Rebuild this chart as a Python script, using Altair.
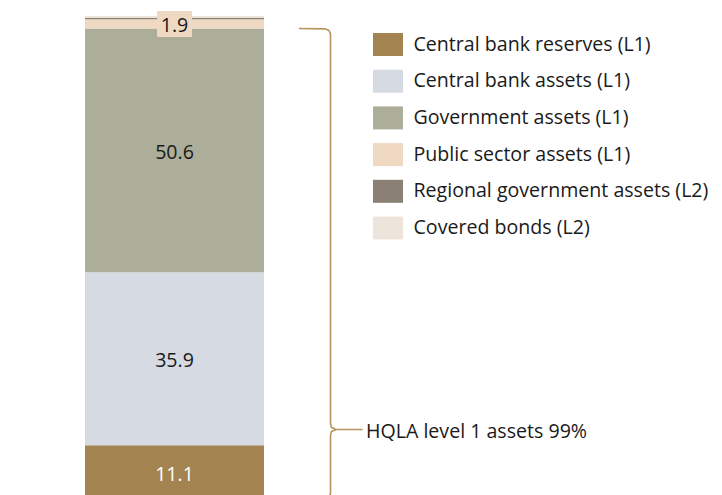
import altair as alt
import pandas as pd

# ---- data ----
categories = [
    "Central bank reserves (L1)",
    "Central bank assets (L1)",
    "Government assets (L1)",
    "Public sector assets (L1)",
    "Regional government assets (L2)",
    "Covered bonds (L2)",
]
values = [11.1, 35.9, 50.6, 1.9, 0.3, 0.4]
labels = ["11.1", "35.9", "50.6", "1.9", "", ""]
colors = ["#a38350", "#d5dae3", "#adae99", "#efd9c3", "#8a8073", "#ede5dc"]
label_colors = ["#ffffff", "#1a1a1a", "#1a1a1a", "#1a1a1a", "#1a1a1a", "#1a1a1a"]
bracket_label = "HQLA level 1 assets 99%"
bracket_tip_value = 14.4

# ---- layout ----
W, H = 706, 479
TOTAL = sum(values)
Y_MIN = 0.8
FONT = "Open Sans"
FS = 19.6
DY = 2.5
BAR_X0, BAR_X1 = 77, 256
BRACKET_COLOR = "#b5955b"

df = pd.DataFrame({
    "category": categories,
    "value": values,
    "label": labels,
    "lcolor": label_colors,
    "order": list(range(len(categories))),
})

yscale = alt.Scale(domain=[Y_MIN, TOTAL], nice=False, zero=False)

stacked = alt.Chart(df).transform_stack(
    stack="value", groupby=[], as_=["v0", "v1"],
    sort=[alt.SortField("order", order="ascending")],
).transform_calculate(mid="(datum.v0 + datum.v1) / 2")

bars = stacked.mark_rect(clip=True, strokeWidth=0).encode(
    x=alt.value(BAR_X0),
    x2=alt.value(BAR_X1),
    y=alt.Y("v0:Q", scale=yscale, axis=None),
    y2="v1:Q",
    color=alt.Color(
        "category:N",
        sort=categories,
        scale=alt.Scale(domain=categories, range=colors),
        legend=alt.Legend(
            title=None,
            orient="none",
            legendX=368.5,
            legendY=17,
            symbolType="M-1.304,-1H1.304V1H-1.304Z",
            symbolSize=529,
            symbolStrokeWidth=0,
            symbolOpacity=1,
            labelFont=FONT,
            labelFontSize=FS,
            labelColor="#1a1a1a",
            labelOffset=14,
            rowPadding=13.7,
            padding=0,
            labelLimit=400,
        ),
    ),
)

labelled = stacked.transform_filter("datum.label != ''")

label_box = labelled.transform_filter(
    alt.datum.category == categories[3]
).mark_point(
    shape="M-1.346,-1H1.346V1H-1.346Z", size=676, filled=True, opacity=1, strokeWidth=0
).encode(
    x=alt.value((BAR_X0 + BAR_X1) / 2),
    y=alt.Y("mid:Q", scale=yscale, axis=None),
    color=alt.value(colors[3]),
)

texts = labelled.mark_text(font=FONT, fontSize=FS, baseline="middle", align="center", dy=DY).encode(
    x=alt.value((BAR_X0 + BAR_X1) / 2),
    y=alt.Y("mid:Q", scale=yscale, axis=None),
    text="label:N",
    color=alt.Color("lcolor:N", scale=None),
)

# ---- bracket (x in pixels, y in data units) ----
u = (TOTAL - Y_MIN) / H  # data units per pixel
top = sum(values[:3])
bot = 0.0
tip = bracket_tip_value
bx = [291, 317, 321, 322.5, 322.5, 323.5, 328, 354, 328, 323.5, 322.5, 322.5, 321, 317, 291]
by = [top, top - 0.3 * u, top - 2 * u, top - 5 * u, tip + 6 * u, tip + 2 * u, tip, tip,
      tip, tip - 2 * u, tip - 6 * u, bot + 5 * u, bot + 2 * u, bot + 0.3 * u, bot]
bdf = pd.DataFrame({"bx": bx, "by": by, "i": list(range(len(bx)))})

bracket = alt.Chart(bdf).mark_line(
    color=BRACKET_COLOR, strokeWidth=1.6, clip=True, strokeJoin="round"
).encode(
    x=alt.X("bx:Q", scale=alt.Scale(domain=[0, W], nice=False, zero=False), axis=None),
    y=alt.Y("by:Q", scale=yscale, axis=None),
    order="i:Q",
)

bracket_text = alt.Chart(pd.DataFrame({"t": [bracket_label], "y": [tip]})).mark_text(
    font=FONT, fontSize=FS, align="left", baseline="middle", color="#1a1a1a", dy=DY
).encode(
    x=alt.value(358),
    y=alt.Y("y:Q", scale=yscale, axis=None),
    text="t:N",
)

chart = alt.layer(bars, label_box, texts, bracket, bracket_text).properties(
    width=W, height=H,
    autosize=alt.AutoSizeParams(type="none"),
    padding={"left": 0, "top": 8, "right": 0, "bottom": 0},
).configure_view(stroke=None)

chart.save("out.html", embed_options={"renderer": "svg", "actions": False})
